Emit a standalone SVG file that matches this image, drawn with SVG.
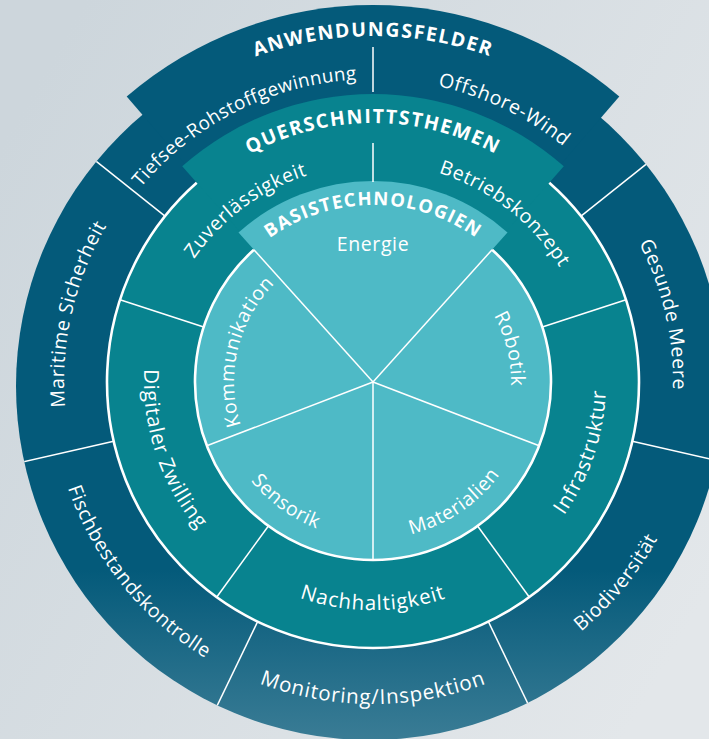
<svg xmlns="http://www.w3.org/2000/svg" xmlns:xlink="http://www.w3.org/1999/xlink" width="709" height="739" viewBox="0 0 709 739">
<defs>
<linearGradient id="bg" x1="0" y1="0.2" x2="1" y2="0.8">
<stop offset="0" stop-color="#cdd6dc"/>
<stop offset="1" stop-color="#e3e7ea"/>
</linearGradient>
<linearGradient id="outerGrad" gradientUnits="userSpaceOnUse" x1="0" y1="570" x2="0" y2="740">
<stop offset="0" stop-color="#045a7a"/>
<stop offset="1" stop-color="#3a7c95"/>
</linearGradient>
<clipPath id="outerClip"><circle cx="370" cy="386" r="354"/></clipPath>
<path id="pANW" d="M73.4,209 A346,346 0 0 1 672.6,209"/>
<path id="pTief" d="M70.9,359.3 A303,303 0 0 1 543.7,131.7"/>
<path id="pOff" d="M202.3,131.7 A303,303 0 0 1 675.1,359.3"/>
<path id="pGes" d="M460.7,95.1 A300,300 0 0 1 577.6,601.4"/>
<path id="pMar" d="M162.7,608.3 A309,309 0 0 1 282.1,86.7"/>
<path id="pBio" d="M319.4,702.5 A325,325 0 0 0 677.4,268.2"/>
<path id="pMon" d="M94.1,543 A322,322 0 0 0 651.9,543"/>
<path id="pFis" d="M71.4,266.2 A323,323 0 0 0 423.5,701"/>
<path id="pQS" d="M148.7,252.5 A259,259 0 0 1 597.3,252.5"/>
<path id="pZuv" d="M157.4,406.6 A217,217 0 0 1 459.5,183"/>
<path id="pBet" d="M291,178.9 A219,219 0 0 1 589.9,412.5"/>
<path id="pInf" d="M419.5,610.3 A233,233 0 0 0 547.5,227.6"/>
<path id="pNac" d="M175.5,496 A228,228 0 0 0 570.5,496"/>
<path id="pDig" d="M201.5,230.3 A229,229 0 0 0 327.3,606.4"/>
<path id="pBT" d="M219.7,293.5 A177,177 0 0 1 526.3,293.5"/>
<path id="pRob" d="M412.2,249.7 A138,138 0 0 1 468,482.1"/>
<path id="pKom" d="M277.3,482.8 A139,139 0 0 1 333.5,248.7"/>
<path id="pMat" d="M304.2,523.1 A157,157 0 0 0 529.6,371"/>
<path id="pSen" d="M216.9,365.6 A157,157 0 0 0 436.9,525.4"/>
</defs>
<style>
text{font-family:"Open Sans","Noto Sans","Liberation Sans",sans-serif;fill:#ffffff}
.lbl{font-size:19.5px;letter-spacing:0.6px}
.big{font-size:20.5px;letter-spacing:0.9px}
.head{font-size:19.5px;font-weight:bold;letter-spacing:1.5px}
.div{stroke:#ffffff;stroke-width:1.5;fill:none}
.ring{stroke:#ffffff;stroke-width:2.6;fill:none}
</style>
<rect width="709" height="739" fill="url(#bg)"/>

<g id="anwendungsfelder">
<circle cx="370" cy="386" r="354" fill="url(#outerGrad)"/>
<path d="M373,382 L126.7,96.6 A377,377 0 0 1 619.3,96.6 Z" fill="#045a7a"/>
<text class="head"><textPath href="#pANW" startOffset="50%" text-anchor="middle">ANWENDUNGSFELDER</textPath></text>
</g>

<g id="querschnittsthemen">
<circle cx="373" cy="382" r="266" fill="#08838f"/>
<path d="M373,382 L182.2,166.3 A288,288 0 0 1 563.8,166.3 Z" fill="#08838f"/>
<text class="head"><textPath href="#pQS" startOffset="50%" text-anchor="middle">QUERSCHNITTSTHEMEN</textPath></text>
</g>

<g id="basistechnologien">
<circle cx="373" cy="382" r="178" fill="#4ebac6"/>
<path d="M373,382 L238.5,232.6 A201,201 0 0 1 507.5,232.6 Z" fill="#4ebac6"/>
<text class="head" style="font-size:18.5px;letter-spacing:1.3px"><textPath href="#pBT" startOffset="50%" text-anchor="middle">BASISTECHNOLOGIEN</textPath></text>
</g>

<g id="connectors">
<path class="ring" d="M549.3,182.8 A266,266 0 1 1 196.7,182.8"/>
<path class="ring" d="M492.1,249.7 A178,178 0 1 1 253.9,249.7"/>
<line class="div" x1="373" y1="382" x2="492.1" y2="249.7"/>
<line class="div" x1="373" y1="382" x2="253.9" y2="249.7"/>
<line class="div" x1="373" y1="382" x2="539.2" y2="445.8"/>
<line class="div" x1="373" y1="382" x2="206.8" y2="445.8"/>
<line class="div" x1="373" y1="382" x2="373" y2="560"/>
<line class="div" x1="542.3" y1="327" x2="626" y2="299.8"/>
<line class="div" x1="203.7" y1="327" x2="120" y2="299.8"/>
<line class="div" x1="477.6" y1="526" x2="529.4" y2="597.2"/>
<line class="div" x1="268.4" y1="526" x2="216.6" y2="597.2"/>
<line class="div" x1="373" y1="182" x2="373" y2="143"/>
<g clip-path="url(#outerClip)">
<line class="div" x1="581" y1="216.1" x2="670.1" y2="145.1"/>
<line class="div" x1="165" y1="216.1" x2="75.9" y2="145.1"/>
<line class="div" x1="632.3" y1="441.2" x2="743.5" y2="466.6"/>
<line class="div" x1="113.7" y1="441.2" x2="2.5" y2="466.6"/>
<line class="div" x1="488.4" y1="621.7" x2="537.9" y2="724.4"/>
<line class="div" x1="257.6" y1="621.7" x2="208.1" y2="724.4"/>
</g>
<line class="div" x1="373" y1="47" x2="373" y2="92"/>
</g>

<g id="tiefsee"><text class="lbl" style="font-size:18.8px;letter-spacing:0.4px"><textPath href="#pTief" startOffset="49.3%" text-anchor="middle">Tiefsee-Rohstoffgewinnung</textPath></text></g>
<g id="offshore"><text class="lbl"><textPath href="#pOff" startOffset="50%" text-anchor="middle">Offshore-Wind</textPath></text></g>
<g id="gesunde-meere"><text class="lbl"><textPath href="#pGes" startOffset="50%" text-anchor="middle">Gesunde Meere</textPath></text></g>
<g id="biodiversitaet"><text class="lbl"><textPath href="#pBio" startOffset="50%" text-anchor="middle">Biodiversität</textPath></text></g>
<g id="monitoring"><text class="big"><textPath href="#pMon" startOffset="50%" text-anchor="middle">Monitoring/Inspektion</textPath></text></g>
<g id="fischbestand"><text class="lbl"><textPath href="#pFis" startOffset="50%" text-anchor="middle">Fischbestandskontrolle</textPath></text></g>
<g id="maritime"><text class="lbl"><textPath href="#pMar" startOffset="50%" text-anchor="middle">Maritime Sicherheit</textPath></text></g>

<g id="zuverlaessigkeit"><text class="lbl"><textPath href="#pZuv" startOffset="50%" text-anchor="middle">Zuverlässigkeit</textPath></text></g>
<g id="betriebskonzept"><text class="lbl"><textPath href="#pBet" startOffset="50%" text-anchor="middle">Betriebskonzept</textPath></text></g>
<g id="infrastruktur"><text class="big"><textPath href="#pInf" startOffset="50%" text-anchor="middle">Infrastruktur</textPath></text></g>
<g id="nachhaltigkeit"><text class="big"><textPath href="#pNac" startOffset="50%" text-anchor="middle">Nachhaltigkeit</textPath></text></g>
<g id="digitaler-zwilling"><text class="big"><textPath href="#pDig" startOffset="50%" text-anchor="middle">Digitaler Zwilling</textPath></text></g>

<g id="energie"><text class="lbl" x="373" y="251" text-anchor="middle">Energie</text></g>
<g id="robotik"><text class="lbl"><textPath href="#pRob" startOffset="50%" text-anchor="middle">Robotik</textPath></text></g>
<g id="materialien"><text class="lbl"><textPath href="#pMat" startOffset="50%" text-anchor="middle">Materialien</textPath></text></g>
<g id="sensorik"><text class="lbl"><textPath href="#pSen" startOffset="50%" text-anchor="middle">Sensorik</textPath></text></g>
<g id="kommunikation"><text class="lbl"><textPath href="#pKom" startOffset="50%" text-anchor="middle">Kommunikation</textPath></text></g>
</svg>
